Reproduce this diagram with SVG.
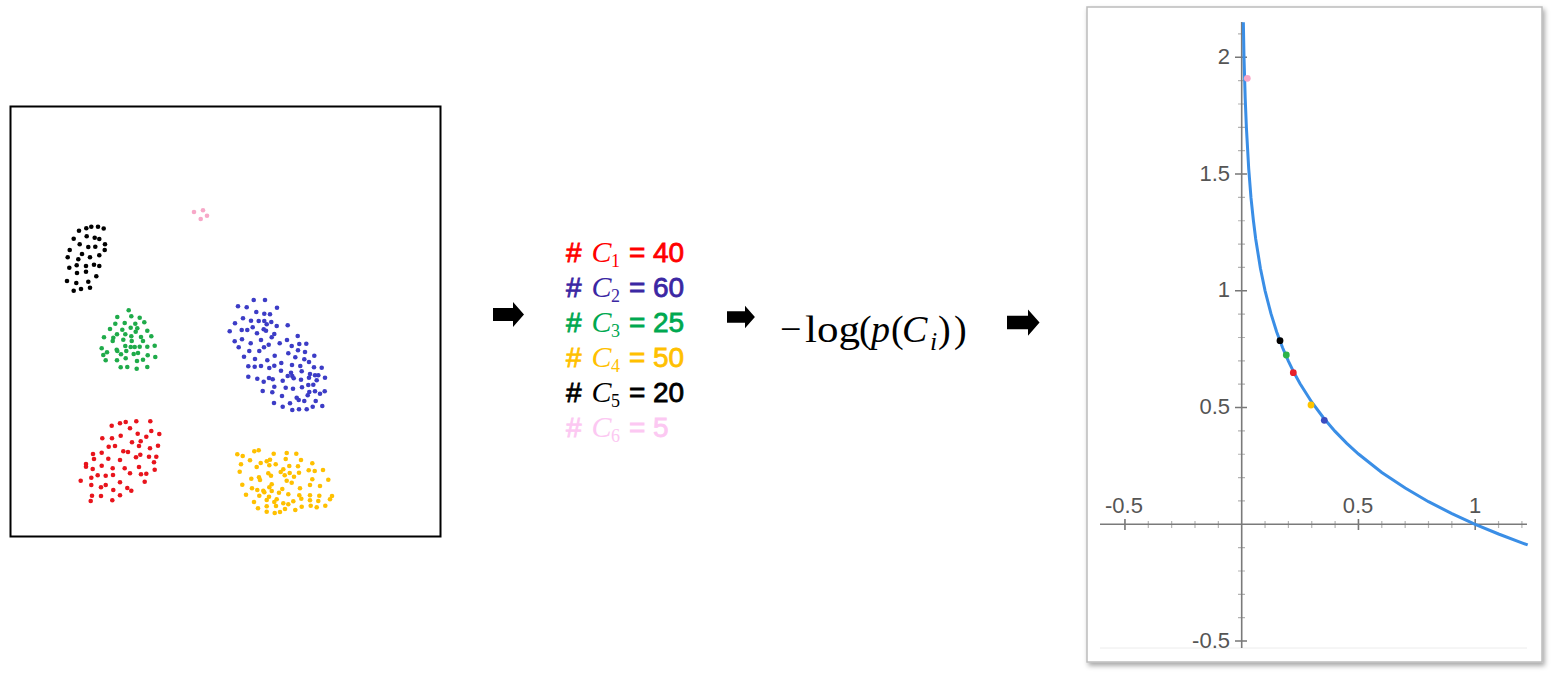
<svg xmlns="http://www.w3.org/2000/svg" width="1554" height="677" viewBox="0 0 1554 677">
<style>
.sans{font-family:"Liberation Sans",Arial,sans-serif;font-size:28px;stroke-width:0.8px}
.mi{font-family:"Liberation Serif","Times New Roman",serif;font-style:italic;font-size:30px}
.sub{font-family:"Liberation Serif","Times New Roman",serif;font-size:18px}
.f{font-family:"Liberation Serif","Times New Roman",serif;font-size:38px;fill:#000}
.fi{font-family:"Liberation Serif","Times New Roman",serif;font-style:italic;font-size:38px;fill:#000}
.lbl{font-family:"Liberation Sans",Arial,sans-serif;font-size:22px;fill:#555}
.axis{stroke:#7a7a7a;stroke-width:1.6;fill:none}
.minor{stroke:#b4b4b4;stroke-width:1.2;fill:none}
.major{stroke:#777;stroke-width:1.6;fill:none}
</style>
<defs>
<path id="blockArrow" d="M0,-6.5 H20 V-12.5 L31,0 L20,12.5 V6.5 H0 Z" fill="#000"/>
<filter id="shadow" x="-5%" y="-5%" width="112%" height="112%">
<feDropShadow dx="2" dy="3" stdDeviation="2.5" flood-color="#000" flood-opacity="0.35"/>
</filter>
</defs>
<rect width="1554" height="677" fill="#fff"/>

<g id="scatter">
<rect x="10.5" y="106.5" width="430" height="430" fill="#fff" stroke="#000" stroke-width="2"/>
<g id="cluster-black" fill="#000">
<circle cx="79" cy="230.7" r="2.3"/><circle cx="86.3" cy="228.3" r="2.3"/><circle cx="91.3" cy="226.7" r="2.3"/><circle cx="98" cy="226.7" r="2.3"/><circle cx="103.7" cy="228.5" r="2.3"/>
<circle cx="73.7" cy="238.7" r="2.3"/><circle cx="86.7" cy="236.3" r="2.3"/><circle cx="94.7" cy="237.7" r="2.3"/><circle cx="99.3" cy="239" r="2.3"/><circle cx="79.7" cy="244.3" r="2.3"/>
<circle cx="88.3" cy="247" r="2.3"/><circle cx="95.3" cy="246.7" r="2.3"/><circle cx="105" cy="244.3" r="2.3"/><circle cx="69.7" cy="250" r="2.3"/><circle cx="104.7" cy="250" r="2.3"/>
<circle cx="82" cy="254" r="2.3"/><circle cx="67.7" cy="257.3" r="2.3"/><circle cx="90" cy="257.3" r="2.3"/><circle cx="99.3" cy="255.3" r="2.3"/><circle cx="78.3" cy="259.3" r="2.3"/>
<circle cx="76.7" cy="265.3" r="2.3"/><circle cx="69.3" cy="267.7" r="2.3"/><circle cx="86" cy="266" r="2.3"/><circle cx="94" cy="264.7" r="2.3"/><circle cx="99.3" cy="266" r="2.3"/>
<circle cx="77" cy="273" r="2.3"/><circle cx="86" cy="271.7" r="2.3"/><circle cx="96.3" cy="276.3" r="2.3"/><circle cx="67" cy="281" r="2.3"/><circle cx="76.3" cy="283" r="2.3"/>
<circle cx="88.3" cy="281.7" r="2.3"/><circle cx="73.7" cy="290.7" r="2.3"/><circle cx="81" cy="289" r="2.3"/><circle cx="90" cy="287.7" r="2.3"/>
</g>
<g id="cluster-pink" fill="#f7a8c8">
<circle cx="194" cy="212" r="2.3"/><circle cx="203" cy="210.3" r="2.3"/><circle cx="200.7" cy="219" r="2.3"/><circle cx="207" cy="215.7" r="2.3"/>
</g>
<g id="cluster-green" fill="#1fab4a">
<circle cx="128.7" cy="310.3" r="2.3"/><circle cx="117.3" cy="317" r="2.3"/><circle cx="131.3" cy="316.3" r="2.3"/><circle cx="139.7" cy="317.7" r="2.3"/><circle cx="115.3" cy="323.7" r="2.3"/>
<circle cx="124.7" cy="323" r="2.3"/><circle cx="135.3" cy="323.7" r="2.3"/><circle cx="144.3" cy="322.3" r="2.3"/><circle cx="110" cy="329" r="2.3"/><circle cx="122.3" cy="329.7" r="2.3"/>
<circle cx="130.7" cy="327.7" r="2.3"/><circle cx="137.3" cy="328.3" r="2.3"/><circle cx="117" cy="334.3" r="2.3"/><circle cx="125.3" cy="334.3" r="2.3"/><circle cx="135.7" cy="331.7" r="2.3"/>
<circle cx="147.3" cy="330.7" r="2.3"/><circle cx="104" cy="337.3" r="2.3"/><circle cx="113.3" cy="337.7" r="2.3"/><circle cx="123.3" cy="339.7" r="2.3"/><circle cx="131.7" cy="341" r="2.3"/>
<circle cx="141" cy="337" r="2.3"/><circle cx="151.3" cy="336.3" r="2.3"/><circle cx="112.7" cy="341" r="2.3"/><circle cx="143" cy="341" r="2.3"/><circle cx="101.7" cy="348.3" r="2.3"/>
<circle cx="107" cy="352.3" r="2.3"/><circle cx="116.7" cy="349.7" r="2.3"/><circle cx="125.3" cy="346" r="2.3"/><circle cx="130.7" cy="347" r="2.3"/><circle cx="134.7" cy="347" r="2.3"/>
<circle cx="139.7" cy="346.7" r="2.3"/><circle cx="147.3" cy="346.7" r="2.3"/><circle cx="154.7" cy="345.7" r="2.3"/><circle cx="103.3" cy="355" r="2.3"/><circle cx="117.3" cy="351" r="2.3"/>
<circle cx="121" cy="354.3" r="2.3"/><circle cx="126.3" cy="351" r="2.3"/><circle cx="133.7" cy="354" r="2.3"/><circle cx="138" cy="353" r="2.3"/><circle cx="147.7" cy="355.3" r="2.3"/>
<circle cx="105.7" cy="360.3" r="2.3"/><circle cx="117" cy="360.3" r="2.3"/><circle cx="125.7" cy="358.3" r="2.3"/><circle cx="137" cy="361" r="2.3"/><circle cx="143" cy="359.7" r="2.3"/>
<circle cx="155.3" cy="357" r="2.3"/><circle cx="120.7" cy="367.3" r="2.3"/><circle cx="127.3" cy="367" r="2.3"/><circle cx="136.7" cy="368.7" r="2.3"/><circle cx="147.3" cy="367" r="2.3"/>
<circle cx="131.3" cy="336.3" r="2.3"/>
</g>
<g id="cluster-blue" fill="#3c3cc6">
<circle cx="253.7" cy="300" r="2.3"/><circle cx="265" cy="300" r="2.3"/><circle cx="238" cy="306.3" r="2.3"/><circle cx="246.7" cy="307.3" r="2.3"/><circle cx="277" cy="307.7" r="2.3"/>
<circle cx="256.3" cy="312" r="2.3"/><circle cx="264.3" cy="313.7" r="2.3"/><circle cx="270" cy="314.3" r="2.3"/><circle cx="243" cy="318.3" r="2.3"/><circle cx="251" cy="320.7" r="2.3"/>
<circle cx="258.7" cy="321" r="2.3"/><circle cx="264.3" cy="321" r="2.3"/><circle cx="271.3" cy="322" r="2.3"/><circle cx="235" cy="323.3" r="2.3"/><circle cx="266.7" cy="324.3" r="2.3"/>
<circle cx="276.7" cy="326" r="2.3"/><circle cx="287.7" cy="325.3" r="2.3"/><circle cx="241.7" cy="330" r="2.3"/><circle cx="247.3" cy="330" r="2.3"/><circle cx="252.7" cy="327.3" r="2.3"/>
<circle cx="263.7" cy="329.3" r="2.3"/><circle cx="266" cy="330.7" r="2.3"/><circle cx="274.3" cy="334" r="2.3"/><circle cx="229.7" cy="331.3" r="2.3"/><circle cx="257" cy="333.3" r="2.3"/>
<circle cx="271.7" cy="337.3" r="2.3"/><circle cx="297.7" cy="336" r="2.3"/><circle cx="234.7" cy="341.3" r="2.3"/><circle cx="242" cy="339.3" r="2.3"/><circle cx="250.7" cy="343.3" r="2.3"/>
<circle cx="261" cy="340" r="2.3"/><circle cx="268.7" cy="344.7" r="2.3"/><circle cx="279.7" cy="343.3" r="2.3"/><circle cx="287" cy="340" r="2.3"/><circle cx="299.3" cy="344" r="2.3"/>
<circle cx="306.3" cy="343.7" r="2.3"/><circle cx="238.7" cy="347.3" r="2.3"/><circle cx="249.3" cy="351" r="2.3"/><circle cx="259.3" cy="351" r="2.3"/><circle cx="264" cy="347.3" r="2.3"/>
<circle cx="291.7" cy="346" r="2.3"/><circle cx="298" cy="350.3" r="2.3"/><circle cx="305" cy="352" r="2.3"/><circle cx="288.3" cy="353.3" r="2.3"/><circle cx="314.3" cy="355.7" r="2.3"/>
<circle cx="244" cy="356.7" r="2.3"/><circle cx="255" cy="359" r="2.3"/><circle cx="267.3" cy="360.3" r="2.3"/><circle cx="274.7" cy="355.7" r="2.3"/><circle cx="295.3" cy="357.3" r="2.3"/>
<circle cx="304.3" cy="359.3" r="2.3"/><circle cx="309" cy="362" r="2.3"/><circle cx="248.3" cy="366.3" r="2.3"/><circle cx="254.7" cy="366.7" r="2.3"/><circle cx="261" cy="366" r="2.3"/>
<circle cx="269.3" cy="368" r="2.3"/><circle cx="274.3" cy="365.7" r="2.3"/><circle cx="281.3" cy="363" r="2.3"/><circle cx="292" cy="365" r="2.3"/><circle cx="300.3" cy="366" r="2.3"/>
<circle cx="314" cy="367.3" r="2.3"/><circle cx="321.7" cy="367.7" r="2.3"/><circle cx="281" cy="370.7" r="2.3"/><circle cx="291" cy="372.7" r="2.3"/><circle cx="301.7" cy="371.3" r="2.3"/>
<circle cx="310" cy="374" r="2.3"/><circle cx="315" cy="375.3" r="2.3"/><circle cx="318.3" cy="375.3" r="2.3"/><circle cx="287.7" cy="376" r="2.3"/><circle cx="292.3" cy="376" r="2.3"/>
<circle cx="248.3" cy="376.7" r="2.3"/><circle cx="257.3" cy="378.7" r="2.3"/><circle cx="263.7" cy="381.7" r="2.3"/><circle cx="269" cy="378" r="2.3"/><circle cx="272.7" cy="379.3" r="2.3"/>
<circle cx="282.7" cy="380.7" r="2.3"/><circle cx="293.7" cy="378.3" r="2.3"/><circle cx="301" cy="379.7" r="2.3"/><circle cx="309" cy="377.7" r="2.3"/><circle cx="316.7" cy="380.3" r="2.3"/>
<circle cx="325" cy="377.7" r="2.3"/><circle cx="274.3" cy="386.7" r="2.3"/><circle cx="285.7" cy="387.7" r="2.3"/><circle cx="293" cy="388.7" r="2.3"/><circle cx="302" cy="387.3" r="2.3"/>
<circle cx="308.3" cy="385" r="2.3"/><circle cx="313.3" cy="384.7" r="2.3"/><circle cx="262.7" cy="391" r="2.3"/><circle cx="272.3" cy="392.3" r="2.3"/><circle cx="282" cy="396" r="2.3"/>
<circle cx="296.7" cy="397.7" r="2.3"/><circle cx="307.7" cy="395.3" r="2.3"/><circle cx="309.3" cy="392" r="2.3"/><circle cx="315" cy="391.3" r="2.3"/><circle cx="320" cy="393.7" r="2.3"/>
<circle cx="324.7" cy="391.3" r="2.3"/><circle cx="274" cy="403" r="2.3"/><circle cx="282.7" cy="406.7" r="2.3"/><circle cx="290" cy="403.3" r="2.3"/><circle cx="298.7" cy="400" r="2.3"/>
<circle cx="304.3" cy="401" r="2.3"/><circle cx="315.7" cy="401" r="2.3"/><circle cx="292.3" cy="410" r="2.3"/><circle cx="299" cy="409.3" r="2.3"/><circle cx="306.7" cy="409.3" r="2.3"/>
<circle cx="312.7" cy="406.7" r="2.3"/><circle cx="322.3" cy="406" r="2.3"/>
</g>
<g id="cluster-red" fill="#e8141c">
<circle cx="111.7" cy="425.7" r="2.3"/><circle cx="120" cy="423.3" r="2.3"/><circle cx="125.7" cy="422" r="2.3"/><circle cx="136.3" cy="421.3" r="2.3"/><circle cx="150.3" cy="421.3" r="2.3"/>
<circle cx="130" cy="428.3" r="2.3"/><circle cx="151.3" cy="431" r="2.3"/><circle cx="137.7" cy="433.7" r="2.3"/><circle cx="159.3" cy="434" r="2.3"/><circle cx="102.3" cy="438.3" r="2.3"/>
<circle cx="112" cy="438.3" r="2.3"/><circle cx="120.7" cy="435.7" r="2.3"/><circle cx="146.3" cy="436.7" r="2.3"/><circle cx="132" cy="442.3" r="2.3"/><circle cx="140.7" cy="441.3" r="2.3"/>
<circle cx="108.7" cy="446.7" r="2.3"/><circle cx="115" cy="446" r="2.3"/><circle cx="139" cy="446" r="2.3"/><circle cx="158" cy="445.7" r="2.3"/><circle cx="150" cy="448.3" r="2.3"/>
<circle cx="93" cy="454" r="2.3"/><circle cx="101.7" cy="452.7" r="2.3"/><circle cx="123.3" cy="451.3" r="2.3"/><circle cx="128" cy="452" r="2.3"/><circle cx="140.3" cy="454.7" r="2.3"/>
<circle cx="149" cy="456.7" r="2.3"/><circle cx="156.3" cy="456.7" r="2.3"/><circle cx="94" cy="459" r="2.3"/><circle cx="108.3" cy="458.7" r="2.3"/><circle cx="120" cy="460" r="2.3"/>
<circle cx="136" cy="457.3" r="2.3"/><circle cx="154" cy="462.3" r="2.3"/><circle cx="86" cy="464" r="2.3"/><circle cx="101.7" cy="465.7" r="2.3"/><circle cx="112.7" cy="468.3" r="2.3"/>
<circle cx="124.7" cy="468.3" r="2.3"/><circle cx="139" cy="467" r="2.3"/><circle cx="154.7" cy="469.7" r="2.3"/><circle cx="92.7" cy="469" r="2.3"/><circle cx="86" cy="466.7" r="2.3"/>
<circle cx="97.7" cy="475.3" r="2.3"/><circle cx="105.7" cy="475.7" r="2.3"/><circle cx="113" cy="475" r="2.3"/><circle cx="130" cy="473.3" r="2.3"/><circle cx="141" cy="474.3" r="2.3"/>
<circle cx="146.3" cy="473.7" r="2.3"/><circle cx="80.7" cy="480.7" r="2.3"/><circle cx="91.3" cy="477.7" r="2.3"/><circle cx="120" cy="482.3" r="2.3"/><circle cx="144.7" cy="481.7" r="2.3"/>
<circle cx="91.3" cy="485" r="2.3"/><circle cx="101" cy="487.3" r="2.3"/><circle cx="105.7" cy="485" r="2.3"/><circle cx="113.3" cy="490" r="2.3"/><circle cx="127.3" cy="488" r="2.3"/>
<circle cx="131.3" cy="490.7" r="2.3"/><circle cx="92" cy="495.7" r="2.3"/><circle cx="101" cy="496" r="2.3"/><circle cx="120" cy="495.3" r="2.3"/><circle cx="90.7" cy="501" r="2.3"/>
<circle cx="112.3" cy="500.3" r="2.3"/>
</g>
<g id="cluster-yellow" fill="#ffc000">
<circle cx="237.3" cy="454.3" r="2.3"/><circle cx="242.7" cy="456" r="2.3"/><circle cx="254.3" cy="451.3" r="2.3"/><circle cx="258.7" cy="450.3" r="2.3"/><circle cx="273.7" cy="453.7" r="2.3"/>
<circle cx="286.7" cy="453" r="2.3"/><circle cx="296.3" cy="453.7" r="2.3"/><circle cx="250" cy="460.3" r="2.3"/><circle cx="260.7" cy="463" r="2.3"/><circle cx="266.7" cy="461.3" r="2.3"/>
<circle cx="270" cy="459.7" r="2.3"/><circle cx="285.7" cy="459" r="2.3"/><circle cx="301" cy="460" r="2.3"/><circle cx="241" cy="464.3" r="2.3"/><circle cx="256.7" cy="467" r="2.3"/>
<circle cx="269.3" cy="465.3" r="2.3"/><circle cx="275.7" cy="464.3" r="2.3"/><circle cx="283.3" cy="469.3" r="2.3"/><circle cx="289.3" cy="466" r="2.3"/><circle cx="298" cy="466.3" r="2.3"/>
<circle cx="312.3" cy="463.3" r="2.3"/><circle cx="239.7" cy="471.7" r="2.3"/><circle cx="268.3" cy="473.3" r="2.3"/><circle cx="280.7" cy="472" r="2.3"/><circle cx="289.7" cy="473" r="2.3"/>
<circle cx="299" cy="472.7" r="2.3"/><circle cx="308.7" cy="470.3" r="2.3"/><circle cx="314.7" cy="471" r="2.3"/><circle cx="323" cy="470" r="2.3"/><circle cx="251.3" cy="478.7" r="2.3"/>
<circle cx="259" cy="477.3" r="2.3"/><circle cx="260" cy="480" r="2.3"/><circle cx="271" cy="475.7" r="2.3"/><circle cx="271.7" cy="484.3" r="2.3"/><circle cx="284.7" cy="475.3" r="2.3"/>
<circle cx="294" cy="476.7" r="2.3"/><circle cx="312.3" cy="479.3" r="2.3"/><circle cx="328.3" cy="479.7" r="2.3"/><circle cx="242.3" cy="484.7" r="2.3"/><circle cx="252" cy="488.3" r="2.3"/>
<circle cx="257.3" cy="490" r="2.3"/><circle cx="263.3" cy="490.7" r="2.3"/><circle cx="269.3" cy="487.3" r="2.3"/><circle cx="282.3" cy="489" r="2.3"/><circle cx="286.7" cy="480.7" r="2.3"/>
<circle cx="291.7" cy="482.7" r="2.3"/><circle cx="300" cy="488.3" r="2.3"/><circle cx="310" cy="485" r="2.3"/><circle cx="320" cy="486" r="2.3"/><circle cx="246" cy="494.7" r="2.3"/>
<circle cx="259.3" cy="495.7" r="2.3"/><circle cx="264.3" cy="492.3" r="2.3"/><circle cx="271.7" cy="491" r="2.3"/><circle cx="279" cy="492.7" r="2.3"/><circle cx="288.3" cy="494.3" r="2.3"/>
<circle cx="299.3" cy="495.3" r="2.3"/><circle cx="310" cy="495.3" r="2.3"/><circle cx="319.3" cy="495.7" r="2.3"/><circle cx="332" cy="496" r="2.3"/><circle cx="254" cy="502" r="2.3"/>
<circle cx="266.7" cy="500" r="2.3"/><circle cx="276.7" cy="499.3" r="2.3"/><circle cx="283.3" cy="503.3" r="2.3"/><circle cx="293.3" cy="501.3" r="2.3"/><circle cx="301.3" cy="498.7" r="2.3"/>
<circle cx="310" cy="500.3" r="2.3"/><circle cx="318.3" cy="501" r="2.3"/><circle cx="330" cy="499.3" r="2.3"/><circle cx="258" cy="508.3" r="2.3"/><circle cx="266.7" cy="506.3" r="2.3"/>
<circle cx="276" cy="506" r="2.3"/><circle cx="285" cy="509" r="2.3"/><circle cx="295.3" cy="510" r="2.3"/><circle cx="301.7" cy="506.7" r="2.3"/><circle cx="310.7" cy="505.7" r="2.3"/>
<circle cx="316.7" cy="507.3" r="2.3"/><circle cx="325.3" cy="505.7" r="2.3"/><circle cx="266.7" cy="511.7" r="2.3"/><circle cx="274.7" cy="513" r="2.3"/><circle cx="280" cy="512" r="2.3"/>
<circle cx="288.3" cy="504.3" r="2.3"/><circle cx="269" cy="496.7" r="2.3"/><circle cx="274.3" cy="502" r="2.3"/>
</g>
</g>

<g id="counts">
<g id="count-c1" fill="#ff0000" stroke="#ff0000">
<text class="sans" x="566" y="261.5">#</text><text class="mi" x="591.5" y="261.5" stroke="none">C</text><text class="sub" x="611" y="266.5" stroke="none">1</text><text class="sans" x="629" y="261.5">=</text><text class="sans" x="653" y="261.5">40</text>
</g>
<g id="count-c2" fill="#3b27a3" stroke="#3b27a3">
<text class="sans" x="566" y="296.5">#</text><text class="mi" x="591.5" y="296.5" stroke="none">C</text><text class="sub" x="611" y="301.5" stroke="none">2</text><text class="sans" x="629" y="296.5">=</text><text class="sans" x="653" y="296.5">60</text>
</g>
<g id="count-c3" fill="#00a850" stroke="#00a850">
<text class="sans" x="566" y="331.5">#</text><text class="mi" x="591.5" y="331.5" stroke="none">C</text><text class="sub" x="611" y="336.5" stroke="none">3</text><text class="sans" x="629" y="331.5">=</text><text class="sans" x="653" y="331.5">25</text>
</g>
<g id="count-c4" fill="#ffc000" stroke="#ffc000">
<text class="sans" x="566" y="366.5">#</text><text class="mi" x="591.5" y="366.5" stroke="none">C</text><text class="sub" x="611" y="371.5" stroke="none">4</text><text class="sans" x="629" y="366.5">=</text><text class="sans" x="653" y="366.5">50</text>
</g>
<g id="count-c5" fill="#000000" stroke="#000000">
<text class="sans" x="566" y="401.5">#</text><text class="mi" x="591.5" y="401.5" stroke="none">C</text><text class="sub" x="611" y="406.5" stroke="none">5</text><text class="sans" x="629" y="401.5">=</text><text class="sans" x="653" y="401.5">20</text>
</g>
<g id="count-c6" fill="#fcc8f2" stroke="#fcc8f2">
<text class="sans" x="566" y="436.5">#</text><text class="mi" x="591.5" y="436.5" stroke="none">C</text><text class="sub" x="611" y="441.5" stroke="none">6</text><text class="sans" x="629" y="436.5">=</text><text class="sans" x="653" y="436.5">5</text>
</g>
</g>

<g id="formula">
<text class="f" x="780" y="341.5">−</text>
<text class="f" x="805" y="341.5" textLength="55" lengthAdjust="spacingAndGlyphs">log</text>
<text class="f" x="859" y="341.5">(</text>
<text class="fi" x="871" y="341.5">p</text>
<text class="f" x="891" y="341.5">(</text>
<text class="fi" x="902" y="341.5">C</text>
<text class="fi" x="930" y="349.5" style="font-size:26px">i</text>
<text class="f" x="938" y="341.5">)</text>
<text class="f" x="954" y="341.5">)</text>
</g>

<g id="plot">
<rect x="1087" y="7" width="455" height="655" fill="#fff" stroke="#bcbcbc" stroke-width="1.5" filter="url(#shadow)"/>
<line x1="1100" y1="648" x2="1527" y2="648" stroke="#ececec" stroke-width="1"/>
<path class="minor" d="M1148.3,521V528M1171.65,521V528M1195,521V528M1218.35,521V528M1265.05,521V528M1288.4,521V528M1311.75,521V528M1335.1,521V528M1381.8,521V528M1405.15,521V528M1428.5,521V528M1451.85,521V528M1498.55,521V528M1521.9,521V528"/>
<path class="major" d="M1124.95,519V530M1358.45,519V530M1475.2,519V530"/>
<path class="minor" d="M1238,617.7H1245M1238,594.35H1245M1238,571H1245M1238,547.65H1245M1238,500.95H1245M1238,477.6H1245M1238,454.25H1245M1238,430.9H1245M1238,384.2H1245M1238,360.85H1245M1238,337.5H1245M1238,314.15H1245M1238,267.45H1245M1238,244.1H1245M1238,220.75H1245M1238,197.4H1245M1238,150.7H1245M1238,127.35H1245M1238,104H1245M1238,80.65H1245M1238,33.95H1245"/>
<path class="major" d="M1235,641.05H1247M1235,407.55H1247M1235,290.8H1247M1235,174.05H1247M1235,57.3H1247"/>
<line class="axis" x1="1100" y1="524.3" x2="1527" y2="524.3"/>
<line class="axis" x1="1241.7" y1="22" x2="1241.7" y2="648"/>
<g id="y-labels">
<text class="lbl" x="1230" y="63.8" text-anchor="end">2</text>
<text class="lbl" x="1230" y="180.5" text-anchor="end">1.5</text>
<text class="lbl" x="1230" y="297.3" text-anchor="end">1</text>
<text class="lbl" x="1230" y="414" text-anchor="end">0.5</text>
<text class="lbl" x="1230" y="647.5" text-anchor="end">-0.5</text>
</g>
<g id="x-labels">
<text class="lbl" x="1124" y="513" text-anchor="middle">-0.5</text>
<text class="lbl" x="1358" y="513" text-anchor="middle">0.5</text>
<text class="lbl" x="1475" y="513" text-anchor="middle">1</text>
</g>
<path id="curve" fill="none" stroke="#3a8ee6" stroke-width="3" d="M1243.35,22.3 L1244,57.3 L1245.2,98.4 L1246.4,127.6 L1248.7,168.7 L1251,197.9 L1253.4,220.5 L1255.7,239 L1260.4,268.2 L1265.1,290.8 L1270.9,313.4 L1276.7,331.9 L1282.5,347.5 L1288.4,361.1 L1294.2,373.1 L1300.1,383.7 L1311.8,402.2 L1323.4,417.7 L1335.1,431.4 L1346.8,443.4 L1358.5,454 L1381.8,472.5 L1405.2,488.1 L1428.5,501.7 L1451.9,513.6 L1475.2,524.3 L1498.6,534 L1521.9,542.8 L1527.7,544.9"/>
<g id="points">
<circle cx="1247.3" cy="78.3" r="3.4" fill="#f9a8c8"/>
<circle cx="1280" cy="340.7" r="3.4" fill="#000"/>
<circle cx="1286.3" cy="355" r="3.4" fill="#2db34a"/>
<circle cx="1293.3" cy="372.7" r="3.4" fill="#e8202a"/>
<circle cx="1311" cy="405" r="3.4" fill="#ffc400"/>
<circle cx="1324.3" cy="420.3" r="3.4" fill="#3b4cc0"/>
</g>
</g>

<g id="connectors">
<use href="#blockArrow" transform="translate(493,314.5)"/>
<use href="#blockArrow" transform="translate(727,317) scale(0.9)"/>
<use href="#blockArrow" transform="translate(1007,322.5) scale(1.05)"/>
</g>
</svg>
